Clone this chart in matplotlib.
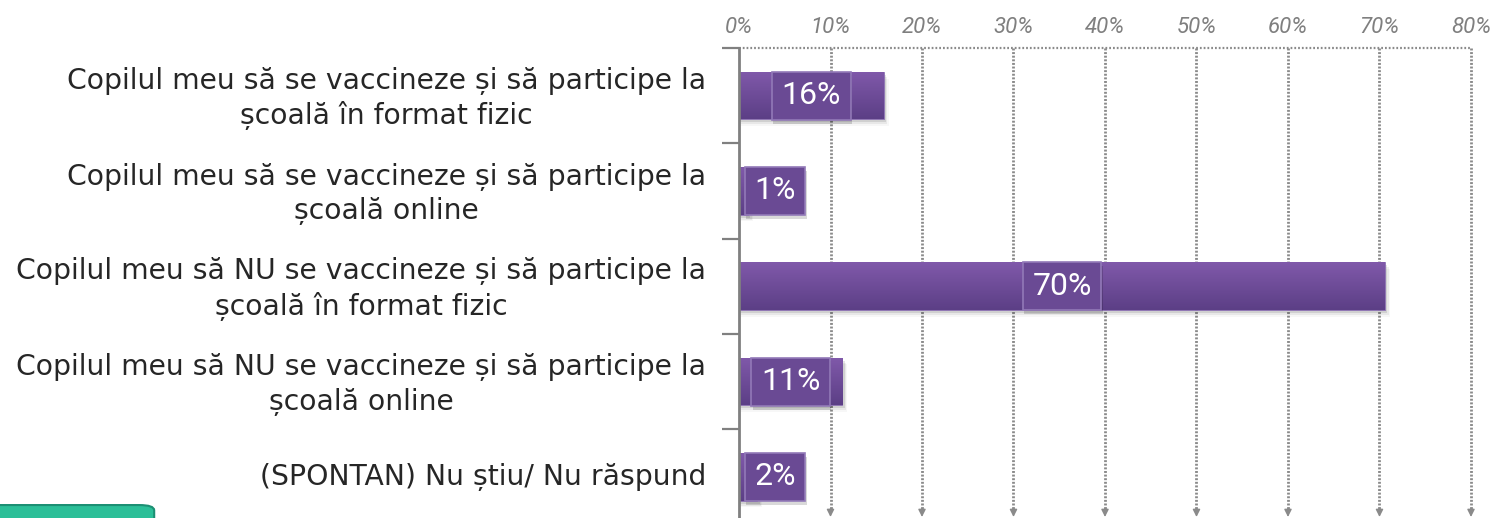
#Horizontal bar chart - vaccination / school format preference
import numpy as np
import matplotlib.pyplot as plt
from matplotlib.patches import FancyBboxPatch
from matplotlib.colors import LinearSegmentedColormap

#Data
categories = [
    "Copilul meu să se vaccineze și să participe la\nșcoală în format fizic",
    "Copilul meu să se vaccineze și să participe la\nșcoală online",
    "Copilul meu să NU se vaccineze și să participe la\nșcoală în format fizic",
    "Copilul meu să NU se vaccineze și să participe la\nșcoală online",
    "(SPONTAN) Nu știu/ Nu răspund",
]
values = [15.8, 1, 70.6, 11.3, 2]
value_labels = ["16%", "1%", "70%", "11%", "2%"]
ticks = [0, 10, 20, 30, 40, 50, 60, 70, 80]
tick_labels = ["0%", "10%", "20%", "30%", "40%", "50%", "60%", "70%", "80%"]

plt.rcParams['font.family'] = ['DejaVu Sans']

fig = plt.figure(figsize=(14.97, 5.18), dpi=100)
ax = fig.add_axes([739/1497, 1 - 517/518, (1471-739)/1497, (517-48)/518])

n = len(categories)
ypos = np.arange(n)
ax.set_xlim(0, 80)
ax.set_ylim(n - 0.5 - 0.08, -0.5)

grid_col = "#8a8a8a"
#gridlines, dotted with arrowheads at the bottom
for t in ticks[1:]:
    ax.plot([t, t], [-0.5, n - 0.5 - 0.16], color=grid_col, lw=2,
            linestyle=(0, (0.7, 0.6)), zorder=1, clip_on=False)
    ax.annotate("", xy=(t, n - 0.5 - 0.08), xytext=(t, n - 0.5 - 0.17),
                arrowprops=dict(arrowstyle="-|>", color=grid_col, lw=1,
                                mutation_scale=11, shrinkA=0, shrinkB=0),
                zorder=1, annotation_clip=False)
ax.plot([0, 80], [-0.5, -0.5], color=grid_col, lw=1.6,
        linestyle=(0, (0.8, 0.9)), zorder=1, clip_on=False)

#bars with vertical gradient
bars = ax.barh(ypos, values, height=0.5, color="#6d4d98", zorder=3,
               edgecolor="#8f74b5", linewidth=0.6)
grad = np.linspace(0, 1, 100).reshape(-1, 1)
cmap = LinearSegmentedColormap.from_list("pg", ["#8059aa", "#5c3f86"])
for b in bars:
    x0, y0 = b.get_x(), b.get_y()
    w, h = b.get_width(), b.get_height()
    # soft shadow
    for k, a in enumerate([0.10, 0.06, 0.03]):
        ax.add_patch(plt.Rectangle((x0, y0 + 0.03 + 0.02 * k), w + 0.25 + 0.15 * k, h,
                                   color="#000000", alpha=a, zorder=2, lw=0))
    im = ax.imshow(grad, extent=(x0, x0 + w, y0 + h, y0), cmap=cmap,
                   aspect="auto", zorder=3.5)
    im.set_clip_path(b)

#value label boxes
for i, (v, lab) in enumerate(zip(values, value_labels)):
    xc = max(v / 2, 3.95)
    ax.text(xc + 0.15, i + 0.04, lab, ha="center", va="center", color="black",
            alpha=0.0, fontsize=23, family="Roboto", zorder=5,
            bbox=dict(boxstyle="square,pad=0.3", facecolor="black", alpha=0.15,
                      edgecolor="none"))
    ax.text(xc, i, lab, ha="center", va="center", color="white", fontsize=23,
            family="Roboto", zorder=6,
            bbox=dict(boxstyle="square,pad=0.3", facecolor="#6a4a94",
                      edgecolor="#9279b8", linewidth=1.2))

#axes styling
for s in ["top", "right", "bottom"]:
    ax.spines[s].set_visible(False)
ax.spines["left"].set_color("#808080")
ax.spines["left"].set_linewidth(2)
ax.spines["left"].set_zorder(7)

ax.set_xticks(ticks)
ax.set_xticklabels(tick_labels, fontsize=16, style="italic", color="#7f7f7f",
                   family="Roboto")
ax.xaxis.tick_top()
ax.tick_params(axis="x", length=0, pad=7)

ax.set_yticks(np.arange(-0.5, n - 0.5, 1))
ax.set_yticklabels([])
ax.tick_params(axis="y", length=12, width=1.6, color="#808080")
for i, c in enumerate(categories):
    dy = 0.03 if "\n" in c else 0
    ax.text(-33 * 80 / 732, i + dy, c, ha="right", va="center", fontsize=20.3,
            color="#262626", multialignment="center", linespacing=1.3,
            transform=ax.transData)

#green button at bottom left
fig.patches.append(FancyBboxPatch((-0.01, -0.03), 0.113, 0.055,
                                  boxstyle="round,pad=0,rounding_size=0.01",
                                  transform=fig.transFigure,
                                  facecolor="#2bbf98", edgecolor="#1c8f73",
                                  lw=1.5, zorder=10))

fig.savefig("out.png", dpi=100)
